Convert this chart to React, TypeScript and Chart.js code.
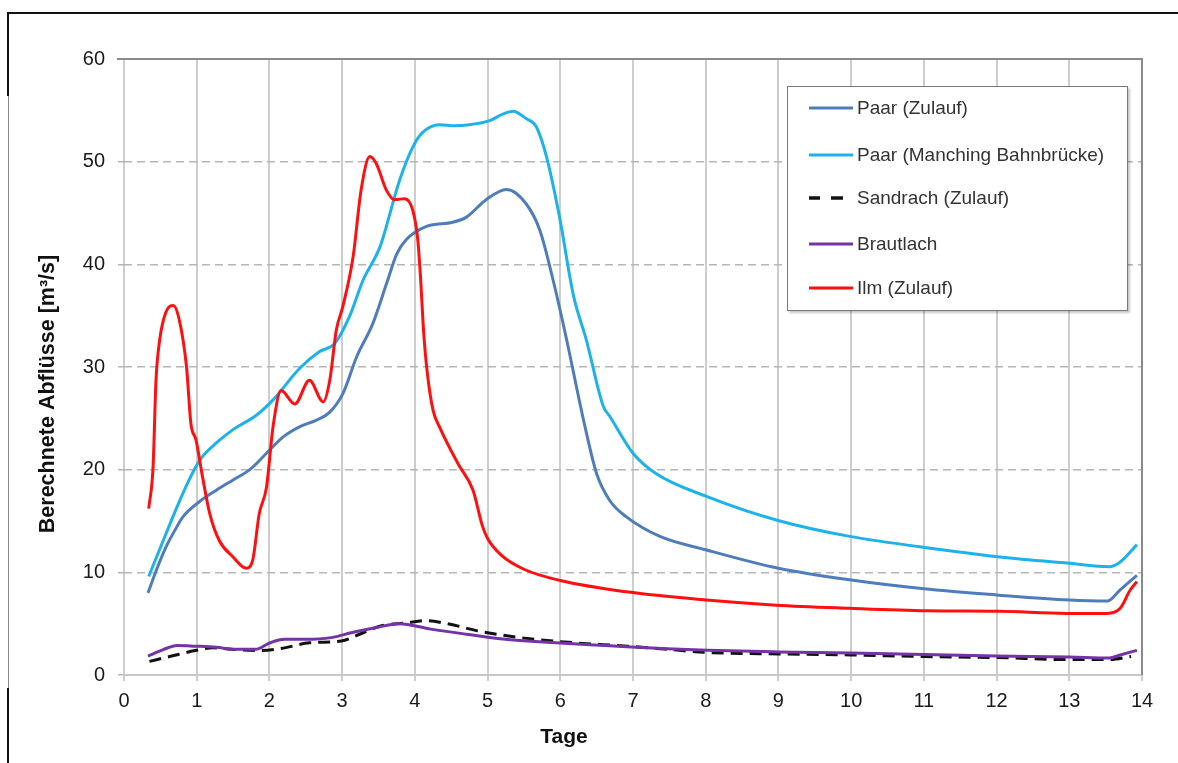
import React, { useEffect, useRef } from "react";
import { Chart, registerables } from "chart.js";

Chart.register(...registerables);

const FONT = '"Liberation Sans", Arial, Helvetica, sans-serif';

// ---- Data (days, m³/s) ----
const paarZulaufDays = [0.33, 0.45, 0.58, 0.7, 0.81, 1.04, 1.27, 1.5, 1.73, 1.96, 2.19, 2.42, 2.64, 2.83, 3.01, 3.2, 3.42, 3.61, 3.75, 3.88, 4.16, 4.52, 4.71, 4.98, 5.26, 5.53, 5.72, 5.9, 6.08, 6.33, 6.5, 6.68, 6.91, 7.37, 8.0, 9.0, 10.0, 11.0, 12.0, 13.0, 13.52, 13.7, 13.93];
const paarZulaufValues = [8.0, 10.3, 12.5, 14.1, 15.4, 16.9, 18.0, 19.0, 20.0, 21.6, 23.2, 24.2, 24.8, 25.6, 27.4, 31.0, 34.2, 38.1, 41.0, 42.4, 43.7, 44.1, 44.6, 46.3, 47.3, 45.9, 43.3, 38.5, 32.9, 24.5, 19.6, 17.0, 15.4, 13.5, 12.2, 10.4, 9.25, 8.4, 7.8, 7.3, 7.2, 8.3, 9.7];

const paarManchingDays = [0.34, 0.58, 0.81, 1.04, 1.27, 1.5, 1.82, 2.05, 2.42, 2.69, 2.9, 3.1, 3.29, 3.52, 3.79, 3.97, 4.1, 4.34, 4.55, 4.75, 5.03, 5.2, 5.35, 5.53, 5.67, 5.81, 5.99, 6.18, 6.36, 6.59, 6.68, 7.0, 7.32, 8.01, 8.97, 9.98, 10.94, 12.05, 12.97, 13.56, 13.7, 13.93];
const paarManchingValues = [9.6, 13.8, 17.7, 20.9, 22.6, 23.9, 25.3, 26.8, 29.9, 31.5, 32.3, 34.9, 38.5, 41.7, 48.2, 51.4, 52.8, 53.6, 53.5, 53.6, 54.0, 54.6, 54.9, 54.2, 53.4, 50.5, 44.6, 37.0, 32.6, 26.2, 25.2, 21.6, 19.6, 17.4, 15.1, 13.5, 12.5, 11.5, 10.9, 10.55, 11.0, 12.7];

const sandrachDays = [0.35, 0.64, 0.98, 1.23, 1.52, 1.86, 2.16, 2.55, 2.99, 3.24, 3.54, 3.88, 4.13, 4.47, 4.86, 5.45, 6.19, 6.93, 7.51, 8.0, 9.0, 10.0, 11.0, 12.0, 13.0, 13.55, 13.85];
const sandrachValues = [1.33, 1.82, 2.38, 2.65, 2.48, 2.38, 2.58, 3.14, 3.31, 3.97, 4.8, 5.06, 5.3, 4.97, 4.3, 3.64, 3.14, 2.81, 2.48, 2.2, 2.05, 1.95, 1.8, 1.7, 1.5, 1.5, 1.8];

const brautlachDays = [0.33, 0.54, 0.73, 0.98, 1.27, 1.52, 1.81, 2.01, 2.21, 2.5, 2.85, 3.14, 3.44, 3.78, 4.22, 4.71, 5.21, 5.94, 6.68, 7.47, 8.02, 9.0, 10.0, 11.0, 12.0, 13.0, 13.55, 13.7, 13.93];
const brautlachValues = [1.85, 2.48, 2.88, 2.81, 2.7, 2.5, 2.5, 3.14, 3.47, 3.47, 3.64, 4.14, 4.57, 5.0, 4.47, 3.97, 3.5, 3.14, 2.85, 2.55, 2.4, 2.25, 2.15, 2.0, 1.85, 1.75, 1.65, 1.95, 2.4];

const ilmDays = [0.34, 0.4, 0.44, 0.49, 0.58, 0.68, 0.76, 0.86, 0.92, 0.99, 1.08, 1.18, 1.31, 1.5, 1.68, 1.77, 1.86, 1.96, 2.05, 2.16, 2.35, 2.55, 2.74, 2.83, 2.92, 3.01, 3.15, 3.26, 3.38, 3.47, 3.61, 3.72, 3.86, 3.97, 4.04, 4.08, 4.12, 4.17, 4.25, 4.35, 4.6, 4.8, 4.93, 5.0, 5.2, 5.5, 6.0, 6.91, 8.01, 8.97, 9.98, 11.04, 12.05, 12.97, 13.52, 13.7, 13.84, 13.93];
const ilmValues = [16.2, 20.3, 28.7, 32.6, 35.4, 36.0, 34.6, 30.0, 24.5, 22.9, 19.3, 15.7, 13.1, 11.5, 10.4, 11.2, 15.7, 18.3, 24.2, 27.7, 26.4, 28.7, 26.6, 28.7, 33.6, 35.9, 40.7, 47.2, 50.5, 49.8, 47.2, 46.3, 46.4, 45.3, 42.4, 38.5, 33.5, 29.5, 25.8, 24.0, 20.5, 18.0, 14.5, 13.3, 11.6, 10.3, 9.2, 8.1, 7.3, 6.8, 6.5, 6.26, 6.2, 6.0, 6.0, 6.5, 8.3, 9.1];

const seriesLabels = ["Paar (Zulauf)", "Paar (Manching Bahnbrücke)", "Sandrach (Zulauf)", "Brautlach", "Ilm (Zulauf)"];
const seriesColors = ["#4f7dbb", "#1eb2ea", "#111111", "#7433a6", "#ff1010"];

const xTitle = "Tage";
const yTitle = "Berechnete Abflüsse [m³/s]";

const toPoints = (xs: number[], ys: number[]) => xs.map((x, i) => ({ x, y: ys[i] }));

export default function App() {
  const canvasRef = useRef<HTMLCanvasElement | null>(null);

  useEffect(() => {
    const canvas = canvasRef.current;
    if (!canvas) return;

    const framePlugin = {
      id: "plotFrame",
      beforeDatasetsDraw(chart: any) {
        const { ctx, chartArea } = chart;
        const { left, right, top, bottom } = chartArea;
        ctx.save();
        ctx.strokeStyle = "#8a8a8a";
        ctx.lineWidth = 2;
        ctx.beginPath();
        ctx.moveTo(left - 7, top);
        ctx.lineTo(right, top);
        ctx.lineTo(right, bottom);
        ctx.stroke();
        ctx.restore();
      },
    };

    const titlePlugin = {
      id: "axisTitles",
      afterDraw(chart: any) {
        const { ctx } = chart;
        ctx.save();
        ctx.fillStyle = "#111";
        ctx.textAlign = "center";
        ctx.textBaseline = "middle";
        ctx.font = `bold 21px ${FONT}`;
        ctx.fillText(xTitle, 564, 737);
        ctx.translate(48, 394);
        ctx.rotate(-Math.PI / 2);
        ctx.font = `bold 21.5px ${FONT}`;
        ctx.fillText(yTitle, 0, 0);
        ctx.restore();
      },
    };

    const mk = (i: number, xs: number[], ys: number[], order: number, dash?: number[]) => ({
      label: seriesLabels[i],
      data: toPoints(xs, ys),
      borderColor: seriesColors[i],
      backgroundColor: seriesColors[i],
      borderWidth: 3,
      borderDash: dash || [],
      pointRadius: 0,
      fill: false,
      cubicInterpolationMode: "monotone" as const,
      order,
    });

    const chart = new Chart(canvas, {
      type: "line",
      data: {
        datasets: [
          mk(0, paarZulaufDays, paarZulaufValues, 3),
          mk(1, paarManchingDays, paarManchingValues, 4),
          mk(2, sandrachDays, sandrachValues, 2, [12, 7]),
          mk(3, brautlachDays, brautlachValues, 1),
          mk(4, ilmDays, ilmValues, 0),
        ],
      },
      options: {
        animation: false,
        responsive: false,
        layout: { padding: { left: 0, top: 59, right: 36, bottom: 0 } },
        plugins: {
          legend: { display: false },
          tooltip: { enabled: false },
          title: { display: false },
        },
        scales: {
          x: {
            type: "linear",
            min: 0,
            max: 14,
            afterFit: (s: any) => {
              s.height = 88;
            },
            ticks: {
              stepSize: 1,
              color: "#1a1a1a",
              font: { family: FONT, size: 20 },
              padding: 8,
            },
            grid: {
              color: "#cdcdcd",
              lineWidth: 2,
              tickLength: 6,
              tickColor: "#cdcdcd",
            },
            border: { display: true, color: "#c8c8c8", width: 2 },
          },
          y: {
            min: 0,
            max: 60,
            afterFit: (s: any) => {
              s.width = 124;
            },
            ticks: {
              stepSize: 10,
              color: "#1a1a1a",
              font: { family: FONT, size: 20 },
              padding: 13,
            },
            grid: {
              color: "#b6b6b6",
              lineWidth: 1.5,
              tickLength: 6,
              tickColor: "#b6b6b6",
            },
            border: { display: false, dash: [8, 5] },
          },
        },
      },
      plugins: [framePlugin, titlePlugin],
    });

    return () => chart.destroy();
  }, []);

  const legendRows = [21, 68, 111, 157, 201];

  return (
    <div style={{ position: "fixed", left: 0, top: 0, width: 1178, height: 763, background: "#fff", overflow: "hidden" }}>
      <canvas ref={canvasRef} width={1178} height={763} style={{ position: "absolute", left: 0, top: 0, display: "block" }} />
      {/* outer frame */}
      <div style={{ position: "absolute", left: 8, top: 12, width: 1170, height: 2, background: "#111" }} />
      <div style={{ position: "absolute", left: 7, top: 12, width: 2, height: 84, background: "#111" }} />
      <div style={{ position: "absolute", left: 8, top: 96, width: 1, height: 592, background: "#8a8a8a" }} />
      <div style={{ position: "absolute", left: 7, top: 688, width: 2, height: 75, background: "#111" }} />
      {/* legend */}
      <div
        style={{
          position: "absolute",
          left: 787,
          top: 86,
          width: 339,
          height: 223,
          border: "1px solid #7a7a7a",
          background: "#fff",
          boxShadow: "2px 2px 2px rgba(0,0,0,0.22)",
          fontFamily: FONT,
        }}
      >
        {seriesLabels.map((label, i) => (
          <div key={label} style={{ position: "absolute", left: 0, top: legendRows[i] - 12, height: 24, width: 339 }}>
            <svg width={46} height={24} style={{ position: "absolute", left: 21, top: 0 }}>
              {i === 2 ? (
                <g stroke={seriesColors[i]} strokeWidth={3.5}>
                  <line x1={0} y1={12} x2={11} y2={12} />
                  <line x1={22} y1={12} x2={34} y2={12} />
                </g>
              ) : (
                <line x1={0} y1={12} x2={44} y2={12} stroke={seriesColors[i]} strokeWidth={3} />
              )}
            </svg>
            <span
              style={{
                position: "absolute",
                left: 69,
                top: 0,
                lineHeight: "24px",
                fontSize: 19,
                color: "#333",
                whiteSpace: "nowrap",
              }}
            >
              {label}
            </span>
          </div>
        ))}
      </div>
    </div>
  );
}
